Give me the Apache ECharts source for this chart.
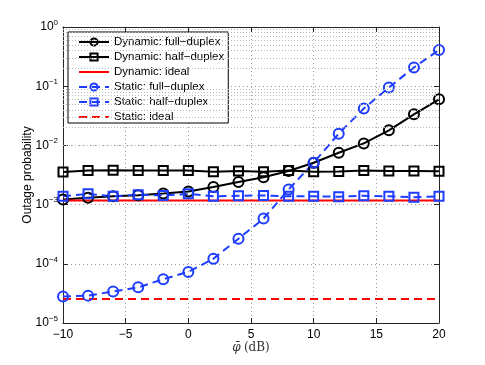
<!DOCTYPE html>
<html>
<head>
<meta charset="utf-8">
<script src="https://cdn.jsdelivr.net/npm/echarts@6/dist/echarts.min.js"></script>
<style>html,body{margin:0;padding:0;background:#fff}#c{width:485px;height:365px}</style>
</head>
<body>
<div id="c"></div>
<script>
var xValues = [-10, -8, -6, -4, -2, 0, 2, 4, 6, 8, 10, 12, 14, 16, 18, 20];
var dynFull = [1.22e-3, 1.30e-3, 1.38e-3, 1.44e-3, 1.54e-3, 1.66e-3, 1.98e-3, 2.4e-3, 2.9e-3, 3.7e-3, 5.1e-3, 7.5e-3, 1.08e-2, 1.8e-2, 3.35e-2, 6.0e-2];
var dynHalf = [3.55e-3, 3.75e-3, 3.8e-3, 3.75e-3, 3.75e-3, 3.75e-3, 3.6e-3, 3.7e-3, 3.6e-3, 3.75e-3, 3.6e-3, 3.62e-3, 3.75e-3, 3.68e-3, 3.68e-3, 3.65e-3];
var dynIdeal = [1.17e-3, 1.17e-3, 1.17e-3, 1.17e-3, 1.17e-3, 1.17e-3, 1.17e-3, 1.17e-3, 1.17e-3, 1.17e-3, 1.17e-3, 1.17e-3, 1.17e-3, 1.17e-3, 1.17e-3, 1.17e-3];
var staticFull = [2.8e-5, 2.9e-5, 3.4e-5, 4.0e-5, 5.5e-5, 7.3e-5, 1.22e-4, 2.65e-4, 5.8e-4, 1.8e-3, 5.1e-3, 1.58e-2, 4.2e-2, 9.5e-2, 0.207, 0.41];
var staticHalf = [1.38e-3, 1.52e-3, 1.38e-3, 1.47e-3, 1.43e-3, 1.52e-3, 1.38e-3, 1.41e-3, 1.43e-3, 1.38e-3, 1.38e-3, 1.36e-3, 1.41e-3, 1.38e-3, 1.33e-3, 1.38e-3];
var staticIdeal = [2.55e-5, 2.55e-5, 2.55e-5, 2.55e-5, 2.55e-5, 2.55e-5, 2.55e-5, 2.55e-5, 2.55e-5, 2.55e-5, 2.55e-5, 2.55e-5, 2.55e-5, 2.55e-5, 2.55e-5, 2.55e-5];
var seriesNames = ['Dynamic: full\u2212duplex', 'Dynamic: half\u2212duplex', 'Dynamic: ideal', 'Static: full\u2212duplex', 'Static: half\u2212duplex', 'Static: ideal'];
var xTicks = [-10, -5, 0, 5, 10, 15, 20];
var yExponents = [-5, -4, -3, -2, -1, 0];
var minorMantissas = [2, 3, 4, 5, 6, 7, 8, 9];

var FONT = 'Liberation Sans, Arial, sans-serif';
var BLUE = '#1f3dff';
var RED = '#ff0000';
var BLACK = '#000000';

function pairs(arr) { return xValues.map(function (x, i) { return [x, arr[i]]; }); }

var minorLines = [];
yExponents.forEach(function (e) {
  if (e === 0) return;
  minorMantissas.forEach(function (m) { minorLines.push({ yAxis: m * Math.pow(10, e) }); });
});

function mkSeries(name, data, color, dashed, symbol, symSize) {
  return {
    name: name, type: 'line', data: pairs(data),
    xAxisIndex: 0, yAxisIndex: 0,
    showSymbol: !!symbol,
    symbol: symbol || 'none',
    symbolSize: symSize || 8,
    lineStyle: { color: color, width: 2, type: dashed ? [8, 5] : 'solid' },
    itemStyle: symbol ? { color: 'rgba(255,255,255,0)', borderColor: color, borderWidth: 2 }
                      : { color: 'rgba(255,255,255,0)', borderColor: 'rgba(255,255,255,0)', borderWidth: 0 },
    emphasis: { disabled: true },
    animation: false, z: 3
  };
}

var series = [
  mkSeries(seriesNames[0], dynFull, BLACK, false, 'circle', 10),
  mkSeries(seriesNames[1], dynHalf, BLACK, false, 'rect', 9),
  mkSeries(seriesNames[2], dynIdeal, RED, false, null),
  mkSeries(seriesNames[3], staticFull, BLUE, true, 'circle', 10),
  mkSeries(seriesNames[4], staticHalf, BLUE, true, 'rect', 9),
  mkSeries(seriesNames[5], staticIdeal, RED, true, null)
];
series[0].markLine = {
  silent: true, symbol: ['none', 'none'], label: { show: false },
  lineStyle: { color: '#b8b8b8', type: [1, 2], width: 1 },
  data: minorLines, animation: false
};

var axisLineStyle = { color: '#262626', width: 1 };

var option = {
  backgroundColor: '#ffffff',
  animation: false,
  grid: { left: 63, right: 46, top: 27, bottom: 42 },
  legend: {
    data: seriesNames,
    orient: 'vertical',
    left: 68, top: 32,
    backgroundColor: '#ffffff',
    borderColor: '#000', borderWidth: 1,
    padding: [4, 4, 0, 10],
    itemWidth: 30, itemHeight: 9, itemGap: 3,
    textStyle: { fontFamily: FONT, fontSize: 11.5, color: '#000' },
    selectedMode: false
  },
  xAxis: [{
    type: 'value', min: -10, max: 20, interval: 5,
    name: '{i|\u03c6\u0304} {n|(dB)}',
    nameLocation: 'middle', nameGap: 19, nameMoveOverlap: false,
    nameTextStyle: { rich: {
      i: { fontFamily: 'DejaVu Serif, serif', fontStyle: 'italic', fontSize: 12, color: '#333' },
      n: { fontFamily: 'DejaVu Serif, serif', fontSize: 12, color: '#333' } } },
    axisLine: { show: true, onZero: false, lineStyle: axisLineStyle },
    axisTick: { show: true, inside: true, length: 5, lineStyle: axisLineStyle },
    axisLabel: { fontFamily: FONT, fontSize: 12, color: '#000', margin: 6,
      formatter: function (v) { return String(v).replace('-', '\u2212'); } },
    splitLine: { show: true, lineStyle: { color: '#9a9a9a', type: [1, 3], width: 1 } }
  }, {
    type: 'value', min: -10, max: 20, interval: 5, position: 'top',
    axisLine: { show: true, onZero: false, lineStyle: axisLineStyle },
    axisTick: { show: true, inside: true, length: 5, lineStyle: axisLineStyle },
    axisLabel: { show: false }, splitLine: { show: false }
  }],
  yAxis: [{
    type: 'log', logBase: 10, min: 1e-5, max: 1, position: 'left',
    name: 'Outage probability', nameLocation: 'middle', nameGap: 29, nameMoveOverlap: false,
    nameTextStyle: { fontFamily: FONT, fontSize: 12, color: '#000' },
    axisLine: { show: true, onZero: false, lineStyle: axisLineStyle },
    axisTick: { show: true, inside: true, length: 5, lineStyle: axisLineStyle },
    axisLabel: {
      fontFamily: FONT, fontSize: 12, color: '#000', margin: 5,
      formatter: function (v) {
        var e = Math.round(Math.log10(v));
        return '{b|10}{s|' + String(e).replace('-', '\u2212') + '}';
      },
      rich: {
        b: { fontFamily: FONT, fontSize: 12, color: '#000' },
        s: { fontFamily: FONT, fontSize: 8, color: '#000', verticalAlign: 'bottom', padding: [0, 0, 9, 0] }
      }
    },
    splitLine: { show: true, lineStyle: { color: '#9a9a9a', type: [1, 3], width: 1 } }
  }, {
    type: 'log', logBase: 10, min: 1e-5, max: 1, position: 'right',
    axisLine: { show: true, onZero: false, lineStyle: axisLineStyle },
    axisTick: { show: true, inside: true, length: 5, lineStyle: axisLineStyle },
    axisLabel: { show: false }, splitLine: { show: false }
  }],
  series: series
};

var chart = echarts.init(document.getElementById('c'), null, { renderer: 'canvas' });
chart.setOption(option);
</script>
</body>
</html>
